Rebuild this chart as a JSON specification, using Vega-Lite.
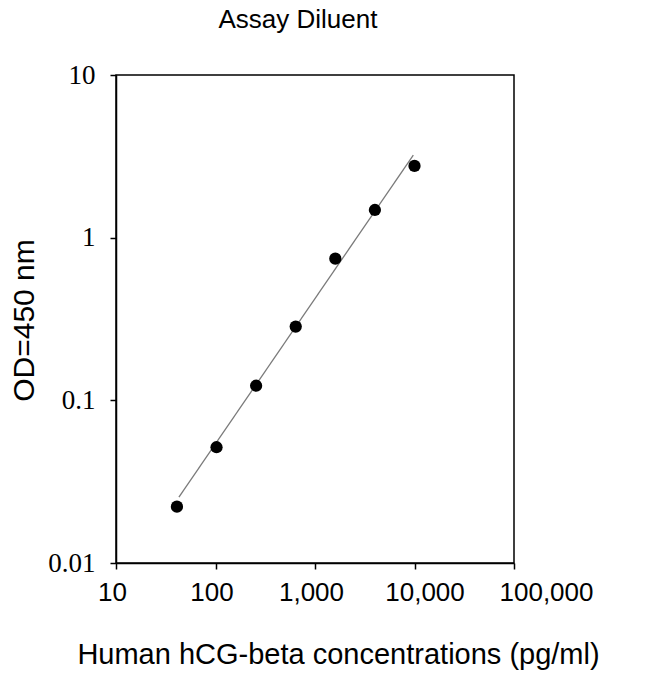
{
  "$schema": "https://vega.github.io/schema/vega-lite/v6.json",
  "autosize": "none",
  "padding": {"left": 116, "top": 75, "right": 136, "bottom": 111},
  "width": 398,
  "height": 488,
  "background": "white",
  "title": {
    "text": "Assay Diluent",
    "font": "Liberation Sans",
    "fontSize": 26,
    "fontWeight": "normal",
    "color": "black",
    "anchor": "middle",
    "frame": "group",
    "dx": -17,
    "baseline": "alphabetic",
    "offset": 7
  },
  "config": {
    "view": {"stroke": "black", "strokeWidth": 1.5},
    "axis": {"grid": false, "domainColor": "black", "domainWidth": 1.5, "tickColor": "black", "tickWidth": 1.5, "tickSize": 6, "labelColor": "black", "titleColor": "black"}
  },
  "datasets": {
    "points": [
      {"conc": 40.96, "od": 0.0222},
      {"conc": 102.4, "od": 0.0515},
      {"conc": 256, "od": 0.123},
      {"conc": 640, "od": 0.284},
      {"conc": 1600, "od": 0.743},
      {"conc": 4000, "od": 1.48},
      {"conc": 10000, "od": 2.76}
    ],
    "fit": [
      {"conc": 42.9, "od": 0.0254},
      {"conc": 9730, "od": 3.22}
    ]
  },
  "encoding": {
    "x": {
      "field": "conc",
      "type": "quantitative",
      "scale": {"type": "log", "domain": [10, 100000], "nice": false},
      "axis": {
        "values": [10, 100, 1000, 10000, 100000],
        "format": ",",
        "labelFont": "Liberation Sans",
        "labelFontSize": 26,
        "labelPadding": 10,
        "labelFlush": false,
        "labelOverlap": false,
        "labelOffset": {"condition": [{"test": "datum.value == 100000", "value": 32}, {"test": "datum.value == 10000", "value": 10}], "value": -4},
        "title": "Human hCG-beta concentrations (pg/ml)",
        "titleFont": "Liberation Sans",
        "titleFontSize": 29,
        "titleFontWeight": "normal",
        "titleAnchor": "start",
        "titleAlign": "center",
        "titleBaseline": "alphabetic",
        "titleX": 222,
        "titleY": 100
      }
    },
    "y": {
      "field": "od",
      "type": "quantitative",
      "scale": {"type": "log", "domain": [0.01, 10], "nice": false},
      "axis": {
        "values": [0.01, 0.1, 1, 10],
        "format": "~g",
        "labelFont": "Liberation Serif",
        "labelFontSize": 27,
        "labelPadding": 15,
        "labelFlush": false,
        "labelOverlap": false,
        "title": "OD=450 nm",
        "titleFont": "Liberation Sans",
        "titleFontSize": 30,
        "titleFontWeight": "normal",
        "titleAngle": -90,
        "titleAlign": "center",
        "titleBaseline": "alphabetic",
        "titleAnchor": "start",
        "titleX": -83,
        "titleY": 245
      }
    }
  },
  "layer": [
    {
      "data": {"name": "fit"},
      "mark": {"type": "line", "color": "#7a7a7a", "strokeWidth": 1.3}
    },
    {
      "data": {"name": "points"},
      "mark": {"type": "circle", "color": "black", "opacity": 1, "size": 150}
    }
  ]
}
